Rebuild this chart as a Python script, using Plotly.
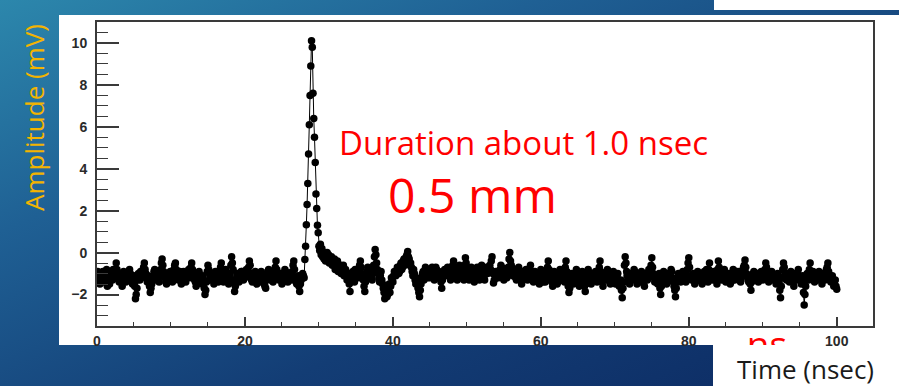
import base64
import numpy as np
import plotly.graph_objects as go

W, H = 899, 386

# Oscilloscope record, amplitude in mV, one sample every 0.1 ns.
# Baseline before the pulse, t = 0.0 ... 27.9 ns
seg_a_mv = [
    -1.3, -0.9, -1.0, -1.4, -1.5, -1.1, -1.2, -1.0, -0.9, -1.3, -1.4, -1.2, -1.1, -0.8, -1.6, -1.2, -1.0, -1.5, -1.3, -1.1,
    -1.1, -1.3, -0.8, -1.0, -1.2, -0.9, -0.5, -0.8, -1.0, -1.2, -1.4, -1.1, -1.2, -1.4, -1.6, -1.2, -0.9, -1.0, -1.2, -1.4,
    -1.0, -1.2, -1.3, -1.1, -0.8, -1.0, -1.2, -1.4, -1.5, -1.2, -1.1, -1.6, -2.2, -2.0, -1.7, -1.3, -1.0, -1.2, -1.3, -0.9,
    -1.2, -1.0, -0.9, -0.7, -0.5, -0.8, -1.0, -1.2, -1.4, -1.1, -1.2, -1.6, -1.9, -1.7, -1.5, -1.3, -1.1, -0.9, -0.8, -1.1,
    -1.3, -1.1, -1.0, -1.2, -1.4, -1.0, -0.8, -0.5, -0.3, -0.6, -0.9, -1.1, -1.2, -1.4, -1.5, -1.2, -1.0, -1.1, -1.3, -0.9,
    -1.1, -1.3, -1.4, -1.0, -0.8, -0.6, -0.5, -0.8, -1.1, -1.2, -1.3, -1.1, -0.9, -1.3, -1.5, -1.4, -1.2, -0.9, -1.0, -1.2,
    -1.4, -1.2, -1.1, -0.9, -0.8, -1.0, -1.2, -0.7, -0.5, -0.8, -1.0, -1.2, -1.3, -1.4, -1.6, -1.3, -1.1, -1.0, -0.9, -1.2,
    -1.2, -1.4, -1.5, -1.1, -1.3, -1.7, -2.0, -1.8, -1.4, -0.9, -0.6, -0.8, -1.0, -1.2, -1.3, -1.0, -1.1, -1.3, -1.5, -1.2,
    -0.9, -1.1, -1.2, -1.3, -1.4, -1.2, -1.0, -0.7, -0.5, -0.8, -1.1, -1.4, -1.3, -1.0, -0.8, -1.1, -1.2, -1.3, -1.5, -1.2,
    -1.0, -0.6, -0.2, -0.5, -0.8, -1.4, -1.85, -1.6, -1.3, -1.2, -1.0, -1.3, -1.4, -1.2, -1.1, -0.9, -0.9, -1.1, -1.3, -1.0,
    -1.2, -1.0, -0.8, -0.9, -1.1, -0.7, -0.4, -0.6, -1.0, -1.3, -1.4, -1.1, -1.2, -1.0, -0.9, -1.3, -1.5, -1.2, -1.1, -1.4,
    -1.3, -1.1, -0.9, -1.0, -1.2, -1.4, -1.5, -1.6, -1.7, -1.3, -1.1, -0.9, -0.8, -1.1, -1.3, -1.2, -1.0, -1.2, -1.4, -1.0,
    -0.9, -0.7, -0.4, -0.8, -1.1, -1.2, -1.3, -1.1, -1.0, -1.3, -1.5, -1.4, -1.2, -1.0, -0.8, -0.9, -1.1, -1.3, -1.4, -1.2,
    -1.0, -1.2, -1.3, -1.1, -0.9, -0.6, -0.4, -0.8, -1.2, -1.4, -1.5, -1.3, -1.1, -1.6, -1.85, -1.5, -1.3, -1.2, -1.0, -1.1,
]
SEG_A_T0 = 0.0

# The pulse, t = 28.0 ... 31.0 ns
peak_mv = [
    -1.2, -0.33, 0.3, 1.33, 2.3, 3.3, 4.7, 6.1, 7.5, 8.9,
    10.1, 9.8, 7.6, 6.4, 5.5, 4.3, 2.8, 2.1, 1.3, 0.95,
    0.3, 0.1, 0.4, -0.1, 0.2, -0.2, 0.0, -0.3, -0.1, -0.4,
    -0.2,
]
PEAK_T0 = 28.0

# Tail and baseline after the pulse, t = 31.1 ... 100.0 ns
seg_b_mv = [
    0.0, -0.2, -0.1, -0.5, -0.4, -0.3, -0.2, -0.6, -0.5, -0.4, -0.3, -0.8, -0.7, -0.5, -0.4, -0.9, -0.8, -0.6, -0.6, -1.0,
    -0.9, -0.7, -0.6, -1.1, -1.0, -0.8, -1.1, -1.3, -1.2, -1.0, -1.5, -1.85, -1.4, -1.2, -1.0, -0.9, -1.2, -1.4, -0.8, -1.1,
    -0.9, -0.8, -1.0, -1.2, -0.6, -0.4, -0.7, -1.0, -1.2, -1.3, -1.6, -1.85, -1.4, -1.1, -0.9, -0.7, -1.0, -1.2, -1.1, -0.9,
    -1.1, -1.3, -0.9, -0.6, -0.2, 0.15, -0.1, -0.5, -0.8, -1.0, -1.2, -1.4, -1.1, -0.9, -1.3, -1.5, -1.7, -1.9, -2.2, -2.0,
    -1.8, -2.1, -2.0, -1.6, -1.5, -1.9, -1.6, -1.2, -1.3, -1.4, -1.1, -0.9, -1.0, -1.1, -0.9, -0.7, -0.8, -1.0, -0.9, -0.6,
    -0.5, -0.8, -0.7, -0.4, -0.3, -0.6, -0.4, -0.2, -0.1, 0.05, -0.2, -0.3, -0.6, -0.5, -0.7, -0.9, -1.1, -0.8, -1.0, -1.3,
    -1.5, -1.2, -1.4, -1.7, -1.9, -2.1, -1.8, -1.5, -1.2, -1.0, -0.9, -1.3, -1.0, -0.7, -0.8, -1.1, -1.2, -0.9, -1.0, -1.2,
    -1.0, -0.8, -0.7, -1.0, -1.1, -1.3, -0.9, -0.7, -0.8, -1.1, -1.2, -0.9, -1.0, -1.2, -1.4, -1.7, -1.3, -1.0, -0.9, -0.8,
    -1.0, -1.1, -0.9, -0.7, -0.8, -1.0, -1.1, -1.3, -1.2, -0.9, -0.6, -0.4, -0.7, -0.8, -1.0, -1.2, -1.3, -1.0, -0.9, -0.6,
    -0.8, -1.1, -1.2, -0.9, -1.0, -1.3, -0.6, -0.25, -0.5, -0.8, -1.0, -1.2, -1.3, -1.0, -0.9, -0.7, -0.8, -1.1, -1.2, -1.4,
    -1.1, -0.9, -0.8, -0.7, -0.9, -1.2, -1.3, -1.0, -0.8, -0.6, -0.9, -1.1, -1.2, -1.3, -1.0, -0.8, -0.7, -1.0, -0.9, -0.7,
    -0.6, -0.8, -0.4, -0.2, -1.0, -1.45, -1.3, -1.0, -0.9, -1.2, -1.0, -0.9, -1.2, -1.1, -0.8, -0.6, -0.7, -1.0, -1.1, -1.3,
    -1.0, -0.9, -1.1, -1.2, -0.9, -0.7, -0.3, 0.0, -0.4, -0.6, -0.9, -1.1, -1.0, -0.8, -1.0, -1.2, -1.3, -1.0, -0.8, -0.7,
    -1.0, -1.1, -1.3, -1.5, -1.2, -0.9, -1.0, -1.2, -0.9, -0.8, -1.1, -1.3, -1.2, -1.0, -0.8, -0.6, -0.9, -1.1, -1.2, -1.4,
    -1.1, -0.9, -1.0, -1.2, -1.3, -1.0, -1.2, -1.5, -1.1, -0.8, -1.0, -1.3, -1.4, -1.1, -1.2, -1.4, -1.0, -0.9, -0.7, -0.4,
    -0.8, -1.0, -1.2, -1.3, -1.4, -1.6, -1.1, -0.9, -1.0, -1.2, -1.3, -1.5, -1.4, -1.1, -1.0, -0.8, -1.1, -1.3, -1.2, -1.0,
    -1.1, -1.4, -0.7, -0.4, -0.9, -1.2, -1.6, -1.9, -1.7, -1.3, -1.2, -1.0, -1.3, -1.5, -1.2, -1.1, -1.0, -0.8, -1.1, -1.3,
    -1.4, -1.6, -1.3, -1.1, -1.0, -0.9, -1.2, -1.4, -1.6, -1.85, -1.5, -1.2, -1.0, -0.8, -1.1, -1.3, -1.4, -1.5, -1.2, -1.0,
    -1.1, -1.2, -1.0, -0.9, -1.2, -1.4, -1.3, -1.1, -0.7, -0.4, -0.9, -1.3, -1.4, -1.6, -1.3, -1.0, -1.1, -1.2, -1.0, -0.8,
    -1.1, -1.3, -1.4, -1.5, -1.3, -1.1, -1.0, -0.9, -1.2, -1.4, -1.5, -1.2, -1.1, -1.0, -1.3, -1.6, -1.5, -1.3, -1.8, -2.15,
    -1.7, -1.4, -0.6, -0.2, -0.5, -0.9, -1.1, -1.2, -1.3, -1.5, -1.2, -1.0, -1.1, -1.3, -1.0, -0.8, -0.9, -1.2, -1.3, -1.5,
    -1.3, -1.1, -1.2, -1.4, -1.1, -0.9, -1.0, -1.2, -1.4, -1.6, -1.3, -1.0, -1.1, -1.3, -1.0, -0.8, -0.9, -1.1, -0.6, -0.25,
    -0.7, -1.0, -1.2, -1.4, -1.1, -1.2, -1.3, -1.5, -1.2, -1.0, -1.7, -2.0, -1.6, -1.3, -1.1, -0.9, -1.0, -1.2, -1.3, -1.5,
    -1.2, -1.1, -1.0, -1.3, -1.1, -0.8, -0.9, -1.2, -1.4, -1.6, -1.8, -2.1, -1.7, -1.4, -1.2, -1.0, -1.1, -1.3, -1.4, -1.1,
    -1.0, -0.9, -1.1, -1.2, -1.3, -1.4, -1.1, -0.8, -0.5, -0.25, -0.7, -1.1, -1.2, -1.3, -1.1, -1.0, -1.3, -1.5, -1.4, -1.2,
    -1.0, -0.9, -1.1, -1.3, -1.2, -1.1, -1.3, -1.5, -1.2, -1.0, -0.9, -1.2, -1.1, -0.8, -1.0, -1.4, -0.8, -0.5, -0.9, -1.1,
    -1.2, -1.3, -1.1, -0.9, -1.0, -1.2, -1.3, -1.5, -0.8, -0.4, -0.7, -1.0, -1.2, -1.3, -1.0, -1.1, -1.2, -0.8, -1.1, -1.4,
    -1.3, -1.2, -1.1, -1.0, -1.2, -1.5, -1.4, -1.1, -1.0, -0.8, -1.1, -1.3, -1.2, -1.0, -0.9, -1.2, -1.1, -0.9, -1.2, -1.4,
    -1.2, -1.1, -0.9, -0.7, -0.6, -0.35, -0.7, -1.0, -1.1, -1.3, -1.4, -1.2, -1.5, -1.8, -1.4, -1.1, -1.0, -0.9, -1.1, -1.3,
    -1.2, -1.0, -1.1, -1.4, -1.3, -1.2, -1.0, -0.9, -1.1, -1.3, -1.2, -1.1, -0.8, -0.5, -0.7, -1.0, -1.2, -1.4, -1.1, -1.2,
    -1.0, -0.9, -1.1, -1.3, -1.2, -1.1, -1.3, -1.5, -1.2, -1.0, -1.1, -1.4, -1.8, -2.15, -1.6, -1.2, -0.8, -0.5, -0.7, -1.0,
    -1.2, -1.3, -1.0, -1.1, -1.2, -1.4, -1.1, -0.9, -1.0, -1.2, -1.4, -1.6, -1.3, -1.0, -1.1, -1.3, -1.0, -0.8, -1.1, -1.2,
    -1.3, -1.5, -1.4, -1.1, -1.9, -2.5, -2.0, -1.6, -1.3, -1.0, -1.1, -1.3, -0.8, -0.5, -0.9, -1.2, -1.1, -0.9, -1.2, -1.4,
    -1.2, -1.1, -1.0, -1.3, -1.2, -0.9, -1.1, -1.2, -1.3, -1.5, -1.2, -1.0, -1.1, -1.3, -1.0, -0.8, -0.7, -0.5, -0.9, -1.2,
    -1.3, -1.4, -1.2, -1.1, -1.4, -1.6, -1.5, -1.3, -1.6, -1.75,
]
SEG_B_T0 = 31.1
SAMPLE_NS = 0.1

x_tick_vals = [0, 20, 40, 60, 80, 100]
y_tick_vals = [-2, 0, 2, 4, 6, 8, 10]

y_title = "Amplitude (mV)"
x_title = "Time (nsec)"
note_duration = "Duration about 1.0 nsec"
note_size = "0.5 mm"
note_cut = "ns"


def fx(p):
    """Pixel column -> paper x."""
    return p / W


def fy(p):
    """Pixel row (from top) -> paper y."""
    return 1 - p / H


time_ns = np.round(np.concatenate([
    SEG_A_T0 + SAMPLE_NS * np.arange(len(seg_a_mv)),
    PEAK_T0 + SAMPLE_NS * np.arange(len(peak_mv)),
    SEG_B_T0 + SAMPLE_NS * np.arange(len(seg_b_mv)),
]), 3)
amp_mv = seg_a_mv + peak_mv + seg_b_mv

# Slide background: diagonal blue gradient as an inline SVG image
svg = (
    f'<svg xmlns="http://www.w3.org/2000/svg" width="{W}" height="{H}" '
    f'viewBox="0 0 {W} {H}" preserveAspectRatio="none">'
    '<defs><linearGradient id="g" x1="0" y1="0" x2="1" y2="1">'
    '<stop offset="0" stop-color="#2c87ac"/>'
    '<stop offset="0.3" stop-color="#1f6094"/>'
    '<stop offset="0.65" stop-color="#133d75"/>'
    '<stop offset="1" stop-color="#0c2a62"/>'
    '</linearGradient></defs>'
    f'<rect width="{W}" height="{H}" fill="url(#g)"/></svg>'
)
bg_src = "data:image/svg+xml;base64," + base64.b64encode(svg.encode()).decode()

tick_font = dict(family="Liberation Sans", size=14, color="#2a2a2a", weight="bold")
axis_line = "#3a3a3a"

fig = go.Figure()

fig.add_trace(go.Scatter(
    x=time_ns, y=amp_mv, mode="lines+markers",
    line=dict(color="black", width=1),
    marker=dict(color="black", size=7.5, line=dict(width=0)),
    xaxis="x", yaxis="y", showlegend=False, hoverinfo="skip",
))

# Red label that runs off the bottom of the white panel
fig.add_trace(go.Scatter(
    x=[0.45], y=[-0.2], mode="text", text=[note_cut],
    textposition="middle center",
    textfont=dict(family="Open Sans", size=37, color="#ff0000"),
    xaxis="x2", yaxis="y2", showlegend=False, hoverinfo="skip",
    cliponaxis=True,
))

fig.update_layout(
    width=W, height=H,
    margin=dict(l=0, r=0, t=0, b=0),
    paper_bgcolor="#1d5a91",
    plot_bgcolor="rgba(0,0,0,0)",
    xaxis=dict(
        domain=[fx(97), fx(873)], range=[0, 104.9], anchor="y",
        tickmode="array", tickvals=x_tick_vals,
        ticks="inside", ticklen=9, tickwidth=1.5, tickcolor=axis_line,
        minor=dict(ticks="inside", ticklen=4, dtick=5, tick0=0,
                   tickcolor=axis_line, tickwidth=1.2, showgrid=False),
        showline=True, linecolor=axis_line, linewidth=2, mirror=True,
        showgrid=False, zeroline=False, tickfont=tick_font,
        ticklabelstandoff=1, automargin=False, fixedrange=True,
    ),
    yaxis=dict(
        domain=[fy(326), fy(22)], range=[-3.5, 11], anchor="x",
        tickmode="array", tickvals=y_tick_vals,
        ticks="inside", ticklen=22, tickwidth=1.5, tickcolor=axis_line,
        minor=dict(ticks="inside", ticklen=11, dtick=0.5, tick0=0,
                   tickcolor=axis_line, tickwidth=1.2, showgrid=False),
        showline=True, linecolor=axis_line, linewidth=2, mirror=True,
        showgrid=False, zeroline=False, tickfont=tick_font,
        ticklabelstandoff=5, automargin=False, fixedrange=True,
    ),
    xaxis2=dict(domain=[fx(740), fx(800)], range=[0, 1], anchor="y2",
                visible=False, fixedrange=True),
    yaxis2=dict(domain=[fy(345), fy(325)], range=[0, 1], anchor="x2",
                visible=False, fixedrange=True),
    images=[dict(
        source=bg_src, xref="paper", yref="paper", x=0, y=1,
        sizex=1, sizey=1, xanchor="left", yanchor="top",
        sizing="stretch", layer="below",
    )],
    shapes=[
        # white chart panel
        dict(type="rect", xref="paper", yref="paper",
             x0=fx(59), x1=fx(W), y0=fy(345), y1=fy(15),
             fillcolor="white", line=dict(width=0), layer="below"),
        # strip at the top right
        dict(type="rect", xref="paper", yref="paper",
             x0=fx(714), x1=fx(W), y0=fy(10), y1=fy(0),
             fillcolor="white", line=dict(width=0), layer="below"),
        # box holding the time-axis caption
        dict(type="rect", xref="paper", yref="paper",
             x0=fx(713), x1=fx(W), y0=fy(H), y1=fy(344),
             fillcolor="white", line=dict(width=0), layer="below"),
    ],
    annotations=[
        dict(text=y_title, xref="paper", yref="paper", x=fx(34), y=fy(118),
             textangle=-90, showarrow=False, xanchor="center", yanchor="middle",
             font=dict(family="Open Sans", size=26, color="#f4b400")),
        dict(text=note_duration, xref="paper", yref="paper", x=fx(337), y=fy(142),
             showarrow=False, xanchor="left", yanchor="middle",
             font=dict(family="Open Sans", size=33, color="#ff0000")),
        dict(text=note_size, xref="paper", yref="paper", x=fx(386), y=fy(194),
             showarrow=False, xanchor="left", yanchor="middle",
             font=dict(family="Open Sans", size=48, color="#ff0000")),
        dict(text=x_title, xref="paper", yref="paper", x=fx(805), y=fy(369),
             showarrow=False, xanchor="center", yanchor="middle",
             font=dict(family="Open Sans", size=26, color="#1a1a1a")),
    ],
)

fig.write_html("out.html")
